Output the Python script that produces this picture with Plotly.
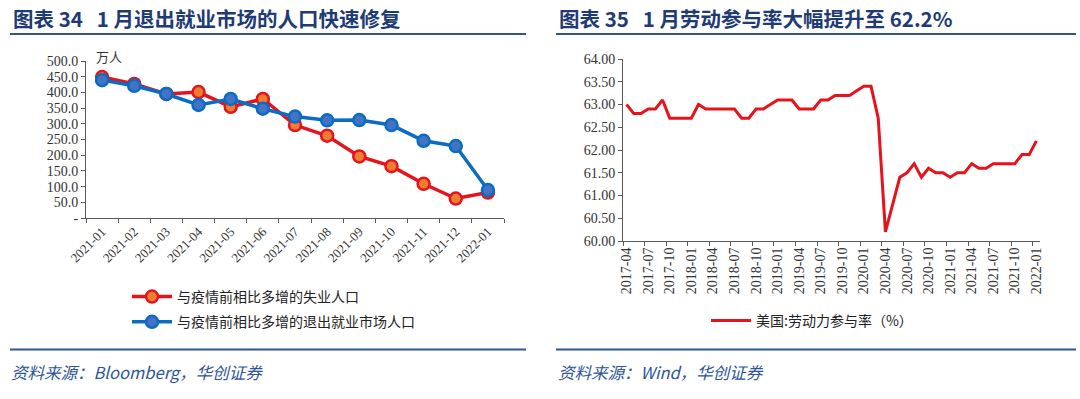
import plotly.graph_objects as go

# ---------------- data ----------------
months_left = ["2021-01", "2021-02", "2021-03", "2021-04", "2021-05", "2021-06", "2021-07",
               "2021-08", "2021-09", "2021-10", "2021-11", "2021-12", "2022-01"]
unemployed_extra = [449, 427, 395, 401, 354, 379, 296, 262, 196, 165, 109, 62, 81]
exited_extra = [439, 421, 395, 360, 379, 348, 323, 311, 312, 296, 246, 229, 89]
name_unemp = "与疫情前相比多增的失业人口"
name_exit = "与疫情前相比多增的退出就业市场人口"

lfpr_start_year, lfpr_start_month = 2017, 4
lfpr = [63.0, 62.8, 62.8, 62.9, 62.9, 63.1, 62.7, 62.7, 62.7, 62.7,
        63.0, 62.9, 62.9, 62.9, 62.9, 62.9, 62.7, 62.7, 62.9, 62.9,
        63.0, 63.1, 63.1, 63.1, 62.9, 62.9, 62.9, 63.1, 63.1, 63.2,
        63.2, 63.2, 63.3, 63.4, 63.4, 62.7, 60.2, 60.8, 61.4, 61.5,
        61.7, 61.4, 61.6, 61.5, 61.5, 61.4, 61.5, 61.5, 61.7, 61.6,
        61.6, 61.7, 61.7, 61.7, 61.7, 61.9, 61.9, 62.2]
months_right = []
y, m = lfpr_start_year, lfpr_start_month
for _ in lfpr:
    months_right.append(f"{y}-{m:02d}")
    m += 1
    if m > 12:
        m = 1
        y += 1
name_lfpr = "美国:劳动力参与率（%）"

left_yticks = [0, 50, 100, 150, 200, 250, 300, 350, 400, 450, 500]
left_yticklabels = ["-" if v == 0 else f"{v:.1f}" for v in left_yticks]

title_left = "图表 34&nbsp;&nbsp;&nbsp;1 月退出就业市场的人口快速修复"
title_right = "图表 35&nbsp;&nbsp;&nbsp;1 月劳动参与率大幅提升至 62.2%"
source_left = "资料来源：Bloomberg，华创证券"
source_right = "资料来源：Wind，华创证券"

# ---------------- layout helpers ----------------
W, H = 1080, 399
def px(x):
    return x / W
def py(y):
    return 1 - y / H

SERIF = "Liberation Serif"
CJK = "Noto Sans CJK SC"
NAVY = "#1F3B73"
RULE = "#2E5597"
RED = "#E5131B"

fig = go.Figure()

fig.add_trace(go.Scatter(
    x=months_left, y=unemployed_extra, name=name_unemp, mode="lines+markers",
    line=dict(color=RED, width=3.5),
    marker=dict(size=12, color="#ED7D31", line=dict(color=RED, width=2.5)),
    xaxis="x", yaxis="y", legend="legend", legendgroup="a"))
fig.add_trace(go.Scatter(
    x=months_left, y=exited_extra, name=name_exit, mode="lines+markers",
    line=dict(color="#0A6CC2", width=3.5),
    marker=dict(size=12, color="#4472C4", line=dict(color="#0A6CC2", width=2.5)),
    xaxis="x", yaxis="y", legend="legend", legendgroup="b"))
fig.add_trace(go.Scatter(
    x=months_right, y=lfpr, name=name_lfpr, mode="lines",
    line=dict(color=RED, width=3),
    xaxis="x2", yaxis="y2", legend="legend2"))

def axis_common(size):
    return dict(showgrid=False, zeroline=False, showline=True, linecolor="#595959",
                linewidth=1, ticks="outside", ticklen=4, tickcolor="#595959",
                automargin=False,
                tickfont=dict(family=SERIF, size=size, color="#333333"))

fig.update_layout(
    width=W, height=H, margin=dict(l=0, r=0, t=0, b=0, autoexpand=False),
    paper_bgcolor="white", plot_bgcolor="white",
    xaxis=dict(domain=[px(86), px(504)], anchor="y", type="category", tickson="boundaries",
               range=[-0.5, len(months_left) - 0.5], tickangle=-45, **axis_common(13)),
    yaxis=dict(domain=[py(218), py(61)], anchor="x", range=[0, 500],
               tickvals=left_yticks, ticktext=left_yticklabels, **axis_common(14)),
    xaxis2=dict(domain=[px(623), px(1040)], anchor="y2", type="category", tickson="boundaries",
                range=[-0.5, len(months_right) - 0.5],
                tickmode="linear", tick0=0, dtick=3, tickangle=-90, **axis_common(14)),
    yaxis2=dict(domain=[py(241), py(59)], anchor="x2", range=[60, 64], dtick=0.5,
                tickformat=".2f", **axis_common(14)),
    legend=dict(x=px(127), y=py(281), xanchor="left", yanchor="top", orientation="v",
                font=dict(family=CJK, size=14, color="#222222"), tracegroupgap=4,
                itemwidth=40, bgcolor="rgba(0,0,0,0)"),
    legend2=dict(x=px(706), y=py(305), xanchor="left", yanchor="top", orientation="v",
                 font=dict(family=CJK, size=14, color="#222222"), itemwidth=40,
                 bgcolor="rgba(0,0,0,0)"),
    showlegend=True,
)

# titles
for x0, txt in [(11, title_left), (557, title_right)]:
    fig.add_annotation(x=px(x0), y=py(18), xref="paper", yref="paper", text=f"<b>{txt}</b>",
                       showarrow=False, xanchor="left", yanchor="middle",
                       font=dict(family=CJK, size=20.5, color=NAVY))
# sources
for x0, txt in [(9, source_left), (556, source_right)]:
    fig.add_annotation(x=px(x0), y=py(372), xref="paper", yref="paper", text=f"<i>{txt}</i>",
                       showarrow=False, xanchor="left", yanchor="middle",
                       font=dict(family=CJK, size=16.5, color=RULE))
# unit label
fig.add_annotation(x=px(94), y=py(57), xref="paper", yref="paper", text="万人",
                   showarrow=False, xanchor="left", yanchor="middle",
                   font=dict(family=CJK, size=13, color="#333333"))

# rules
for (x0, x1) in [(10, 526), (556, 1076)]:
    for yy in (34, 349.5):
        fig.add_shape(type="line", xref="paper", yref="paper",
                      x0=px(x0), x1=px(x1), y0=py(yy), y1=py(yy),
                      line=dict(color=RULE, width=2.2))

fig.write_html("out.html", config={"displayModeBar": False},
               post_script="document.body.style.margin='0px';")
